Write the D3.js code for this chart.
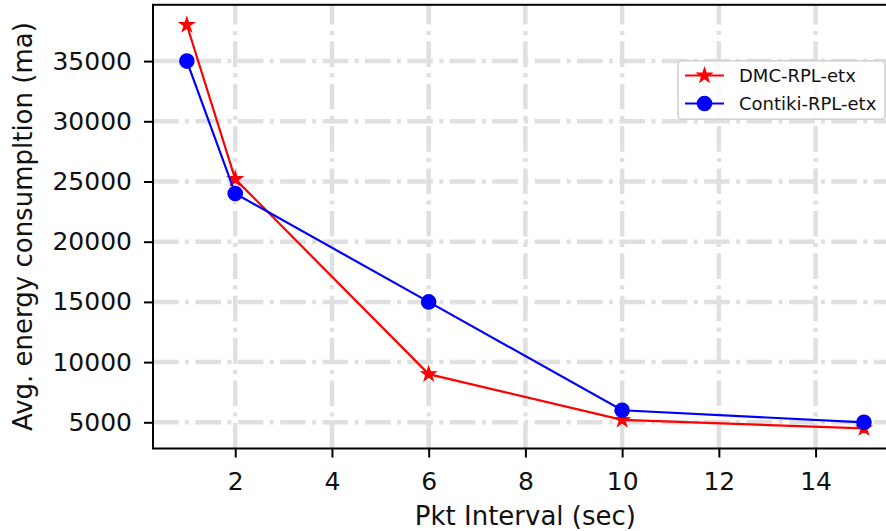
<!DOCTYPE html>
<html>
<head>
<meta charset="utf-8">
<script src="https://cdn.jsdelivr.net/npm/d3@7"></script>
<style>
  html, body { margin: 0; padding: 0; background: #fff; }
  svg { display: block; font-family: "DejaVu Sans", sans-serif; }
</style>
</head>
<body>
<svg id="chart" width="886" height="531"></svg>
<script>
// ---- data ----
const pktIntervals = [1, 2, 6, 10, 15];
const dmcValues = [38000, 25200, 9000, 5200, 4500];
const contikiValues = [35000, 24000, 15000, 6000, 5000];
const seriesNames = ["DMC-RPL-etx", "Contiki-RPL-etx"];
const xTicks = [2, 4, 6, 8, 10, 12, 14];
const yTicks = [5000, 10000, 15000, 20000, 25000, 30000, 35000];
const xLabel = "Pkt Interval (sec)";
const yLabel = "Avg. energy consumpltion (ma)";

// ---- layout ----
const plotL = 153, plotR = 897.8, plotT = 4.8, plotB = 448.5;
const svg = d3.select("#chart");

const x = d3.scaleLinear().domain([0.3, 15.7]).range([plotL, plotR]);
const y = d3.scaleLinear().domain([2825, 39675]).range([plotB, plotT]);

// ---- grid ----
const grid = svg.append("g");
grid.selectAll("line.h").data(yTicks).join("line")
  .attr("x1", plotL).attr("x2", plotR)
  .attr("y1", d => y(d)).attr("y2", d => y(d))
  .attr("stroke", "#e0e0e0").attr("stroke-width", 4.5)
  .attr("stroke-dasharray", "25.6,6.4,4,6.4");
grid.selectAll("line.v").data(xTicks).join("line")
  .attr("x1", d => x(d)).attr("x2", d => x(d))
  .attr("y1", plotB).attr("y2", plotT)
  .attr("stroke", "#e0e0e0").attr("stroke-width", 4.5)
  .attr("stroke-dasharray", "25.6,6.4,4,6.4");

// ---- axes ----
const xAxis = svg.append("g").attr("transform", `translate(0,${plotB})`)
  .call(d3.axisBottom(x).tickValues(xTicks).tickSize(9).tickPadding(15).tickSizeOuter(0));
const yAxis = svg.append("g").attr("transform", `translate(${plotL},0)`)
  .call(d3.axisLeft(y).tickValues(yTicks).tickSize(9).tickPadding(12).tickSizeOuter(0).tickFormat(d3.format("d")));
[xAxis, yAxis].forEach(a => {
  a.select(".domain").remove();
  a.selectAll(".tick line").attr("stroke", "#000").attr("stroke-width", 2);
  a.selectAll(".tick text").attr("fill", "#111").style("font-size", "25px")
    .style("font-family", "'DejaVu Sans', sans-serif");
});
xAxis.selectAll(".tick text").attr("dy", "0.71em");

// ---- series ----
const dmc = pktIntervals.map((d, i) => ({ x: d, y: dmcValues[i] }));
const contiki = pktIntervals.map((d, i) => ({ x: d, y: contikiValues[i] }));
const line = d3.line().x(d => x(d.x)).y(d => y(d.y));
const star = d3.symbol().type(d3.symbolStar).size(66);

svg.append("path").datum(dmc).attr("d", line)
  .attr("fill", "none").attr("stroke", "#ff0000").attr("stroke-width", 2.2);
svg.selectAll("path.star").data(dmc).join("path").attr("class", "star")
  .attr("d", star).attr("transform", d => `translate(${x(d.x)},${y(d.y)})`)
  .attr("fill", "#ff0000").attr("stroke", "#ff0000").attr("stroke-width", 1.2);

svg.append("path").datum(contiki).attr("d", line)
  .attr("fill", "none").attr("stroke", "#0000ff").attr("stroke-width", 2.2);
svg.selectAll("circle.dot").data(contiki).join("circle").attr("class", "dot")
  .attr("cx", d => x(d.x)).attr("cy", d => y(d.y)).attr("r", 7.8)
  .attr("fill", "#0000ff");

// ---- frame ----
svg.append("rect").attr("x", plotL).attr("y", plotT)
  .attr("width", plotR - plotL).attr("height", plotB - plotT)
  .attr("fill", "none").attr("stroke", "#000").attr("stroke-width", 2);

// ---- labels ----
svg.append("text").attr("x", (plotL + plotR) / 2).attr("y", 525)
  .attr("text-anchor", "middle").style("font-size", "26px").attr("fill", "#111")
  .text(xLabel);
svg.append("text")
  .attr("transform", `translate(32,${(plotT + plotB) / 2}) rotate(-90)`)
  .attr("text-anchor", "middle").style("font-size", "26px").attr("fill", "#111")
  .text(yLabel);

// ---- legend ----
const lg = svg.append("g");
lg.append("rect").attr("x", 678).attr("y", 60.7).attr("width", 207).attr("height", 58.6)
  .attr("rx", 4).attr("fill", "#fff").attr("fill-opacity", 0.8)
  .attr("stroke", "#d0d0d0").attr("stroke-width", 1.5);
const legendColors = ["#ff0000", "#0000ff"];
const rows = [75.5, 103.5];
seriesNames.forEach((name, i) => {
  const ry = rows[i];
  lg.append("line").attr("x1", 685).attr("x2", 724).attr("y1", ry).attr("y2", ry)
    .attr("stroke", legendColors[i]).attr("stroke-width", 2.2);
  if (i === 0) {
    lg.append("path").attr("d", star).attr("transform", `translate(704.5,${ry})`)
      .attr("fill", legendColors[i]).attr("stroke", legendColors[i]).attr("stroke-width", 1.2);
  } else {
    lg.append("circle").attr("cx", 704.5).attr("cy", ry).attr("r", 7.8).attr("fill", legendColors[i]);
  }
  lg.append("text").attr("x", 739).attr("y", ry).attr("dy", "0.36em")
    .style("font-size", "18px").attr("fill", "#111").text(name);
});
</script>
</body>
</html>
